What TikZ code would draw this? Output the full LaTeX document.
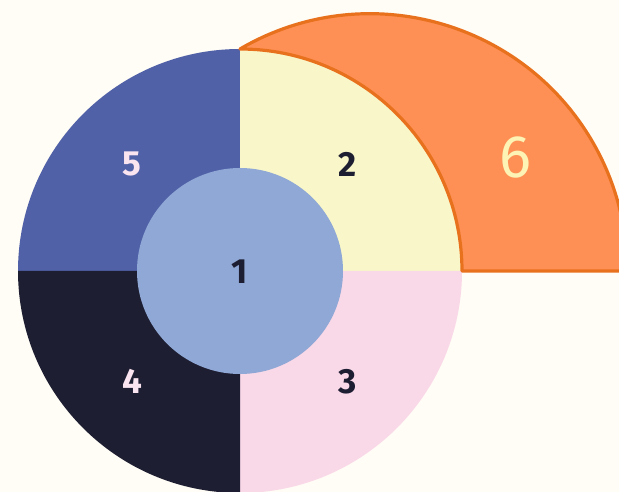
\documentclass[tikz,border=0pt]{standalone}
\usepackage{fontspec}
\setmainfont{Fira Sans}
\usetikzlibrary{calc}
\definecolor{bgCream}{RGB}{255,253,245}
\definecolor{qBlue}{RGB}{81,97,168}
\definecolor{qYellow}{RGB}{249,247,201}
\definecolor{qPink}{RGB}{249,216,232}
\definecolor{qNavy}{RGB}{30,30,50}
\definecolor{qCore}{RGB}{143,168,213}
\definecolor{qOrange}{RGB}{255,144,85}
\definecolor{qEdge}{RGB}{232,113,30}
\definecolor{qPale}{RGB}{249,228,240}
\definecolor{qLemon}{RGB}{252,243,181}

\begin{document}
\begin{tikzpicture}[
			x=1pt,y=1pt,
			num/.style={font=\fontsize{35}{35}\selectfont\bfseries,inner sep=0pt},
			dark/.style={num,text=qNavy},
			light/.style={num,text=qPale}
			]
			\useasboundingbox[fill=bgCream](0,0)rectangle(619,492);
			\clip(0,0)rectangle(619,492);
			\coordinate(C)at(240,221);
			\fill[qBlue](C)--++(180:222)arc(180:90:222)--cycle;
			\fill[qYellow](C)--++(90:222)arc(90:0:222)--cycle;
			\fill[qPink](C)--++(0:222)arc(0:-90:222)--cycle;
			\fill[qNavy](C)--++(-90:222)arc(-90:-180:222)--cycle;
			\draw[qEdge,fill=qOrange,line width=3.2pt,line join=round]
			($(C)+(0:222)$)arc(0:90:222)arc(120.35:0:257.3)--cycle;
			\fill[qCore](C)circle(103);
			\node[dark](n1)at($(C)+(0,-0.5)$){1};
			\node[dark](n2)at($(C)+(108,107)$){2};
			\node[dark](n3)at($(C)+(108,-110.5)$){3};
			\node[light](n4)at($(C)+(-108,-110.5)$){4};
			\node[light](n5)at($(C)+(-108,107)$){5};
			\node[font=\fontsize{60}{60}\selectfont\addfontfeatures{Weight=300},text=qLemon,inner sep=0pt](n6)at(515,335){6};
		\end{tikzpicture}
\end{document}
